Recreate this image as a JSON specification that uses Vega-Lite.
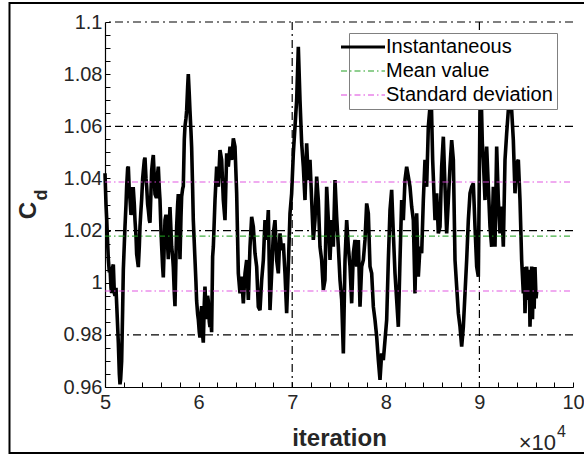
{
  "$schema": "https://vega.github.io/schema/vega-lite/v6.json",
  "width": 468,
  "height": 365,
  "autosize": {"type": "none"},
  "padding": {"left": 105, "top": 22, "right": 11, "bottom": 71},
  "background": "white",
  "config": {"font": "Liberation Sans", "view": {"stroke": null}},
  "datasets": {
    "cd": [
      {"it":50000,"cd":1.042},{"it":50107,"cd":1.030},{"it":50178,"cd":1.025},{"it":50285,"cd":1.015},{"it":50356,"cd":1.009},{"it":50463,"cd":1.004},{"it":50534,"cd":1.006},{"it":50641,"cd":0.998},{"it":50712,"cd":0.996},{"it":50819,"cd":1.006},{"it":50890,"cd":1.007},{"it":50997,"cd":0.996},{"it":51068,"cd":0.995},{"it":51175,"cd":0.998},{"it":51246,"cd":0.992},{"it":51424,"cd":0.977},{"it":51531,"cd":0.965},{"it":51602,"cd":0.961},{"it":51673,"cd":0.963},{"it":51780,"cd":0.970},{"it":51887,"cd":0.990},{"it":51958,"cd":1.005},{"it":52065,"cd":1.015},{"it":52136,"cd":1.0215},{"it":52243,"cd":1.030},{"it":52314,"cd":1.037},{"it":52421,"cd":1.044},{"it":52492,"cd":1.0445},{"it":52599,"cd":1.035},{"it":52670,"cd":1.032},{"it":52777,"cd":1.026},{"it":52848,"cd":1.027},{"it":52955,"cd":1.036},{"it":53026,"cd":1.036},{"it":53133,"cd":1.030},{"it":53204,"cd":1.024},{"it":53311,"cd":1.018},{"it":53382,"cd":1.011},{"it":53489,"cd":1.008},{"it":53560,"cd":1.006},{"it":53667,"cd":1.014},{"it":53738,"cd":1.0215},{"it":53845,"cd":1.028},{"it":53916,"cd":1.032},{"it":54023,"cd":1.040},{"it":54094,"cd":1.043},{"it":54201,"cd":1.047},{"it":54272,"cd":1.048},{"it":54379,"cd":1.040},{"it":54450,"cd":1.037},{"it":54557,"cd":1.030},{"it":54628,"cd":1.028},{"it":54735,"cd":1.024},{"it":54806,"cd":1.023},{"it":54913,"cd":1.035},{"it":54984,"cd":1.043},{"it":55091,"cd":1.047},{"it":55162,"cd":1.049},{"it":55269,"cd":1.040},{"it":55340,"cd":1.034},{"it":55447,"cd":1.033},{"it":55518,"cd":1.033},{"it":55625,"cd":1.042},{"it":55696,"cd":1.0445},{"it":55803,"cd":1.036},{"it":55874,"cd":1.032},{"it":55981,"cd":1.020},{"it":56052,"cd":1.014},{"it":56159,"cd":1.006},{"it":56230,"cd":1.002},{"it":56337,"cd":1.015},{"it":56408,"cd":1.024},{"it":56515,"cd":1.026},{"it":56586,"cd":1.025},{"it":56693,"cd":1.014},{"it":56764,"cd":1.009},{"it":56871,"cd":1.022},{"it":56942,"cd":1.029},{"it":57049,"cd":1.020},{"it":57120,"cd":1.014},{"it":57227,"cd":1.010},{"it":57298,"cd":1.006},{"it":57405,"cd":0.996},{"it":57476,"cd":0.991},{"it":57583,"cd":1.010},{"it":57654,"cd":1.0215},{"it":57761,"cd":1.030},{"it":57832,"cd":1.034},{"it":57939,"cd":1.020},{"it":58010,"cd":1.009},{"it":58117,"cd":1.025},{"it":58188,"cd":1.033},{"it":58295,"cd":1.036},{"it":58366,"cd":1.037},{"it":58473,"cd":1.055},{"it":58544,"cd":1.060},{"it":58651,"cd":1.063},{"it":58722,"cd":1.066},{"it":58829,"cd":1.075},{"it":58900,"cd":1.080},{"it":59007,"cd":1.072},{"it":59078,"cd":1.066},{"it":59185,"cd":1.058},{"it":59256,"cd":1.052},{"it":59363,"cd":1.036},{"it":59434,"cd":1.024},{"it":59541,"cd":1.015},{"it":59612,"cd":1.009},{"it":59719,"cd":1.000},{"it":59790,"cd":0.993},{"it":59897,"cd":0.988},{"it":59968,"cd":0.986},{"it":60075,"cd":0.981},{"it":60146,"cd":0.979},{"it":60253,"cd":0.988},{"it":60324,"cd":0.991},{"it":60431,"cd":0.980},{"it":60502,"cd":0.977},{"it":60609,"cd":0.992},{"it":60680,"cd":0.9985},{"it":60787,"cd":0.990},{"it":60858,"cd":0.986},{"it":60965,"cd":0.995},{"it":61036,"cd":0.993},{"it":61143,"cd":0.985},{"it":61214,"cd":0.983},{"it":61321,"cd":0.985},{"it":61392,"cd":0.981},{"it":61499,"cd":1.010},
      {"it":61574,"cd":1.0138},{"it":61752,"cd":1.0317},{"it":61930,"cd":1.0445},{"it":62108,"cd":1.0368},{"it":62286,"cd":1.0509},{"it":62464,"cd":1.0471},{"it":62642,"cd":1.0317},{"it":62820,"cd":1.0240},{"it":62999,"cd":1.0496},{"it":63177,"cd":1.0445},{"it":63355,"cd":1.0522},{"it":63533,"cd":1.0471},{"it":63711,"cd":1.0554},{"it":63889,"cd":1.0522},{"it":64067,"cd":1.0343},{"it":64245,"cd":1.0036},{"it":64423,"cd":0.9959},{"it":64601,"cd":1.0023},{"it":64779,"cd":0.9921},{"it":64957,"cd":1.0036},{"it":65135,"cd":1.0087},{"it":65313,"cd":0.9934},{"it":65491,"cd":1.0138},{"it":65669,"cd":1.0253},{"it":65847,"cd":1.0215},{"it":66025,"cd":1.0113},{"it":66203,"cd":1.0062},{"it":66381,"cd":0.9908},{"it":66560,"cd":0.9895},{"it":66738,"cd":1.0010},{"it":66916,"cd":1.0087},{"it":67094,"cd":1.0240},{"it":67272,"cd":1.0164},{"it":67450,"cd":1.0279},{"it":67628,"cd":0.9895},{"it":67806,"cd":1.0036},{"it":67984,"cd":1.0189},{"it":68162,"cd":1.0240},{"it":68340,"cd":1.0087},{"it":68518,"cd":1.0036},{"it":68696,"cd":1.0189},{"it":68874,"cd":1.0125},{"it":69052,"cd":1.0151},{"it":69230,"cd":1.0036},{"it":69408,"cd":0.9883},{"it":69586,"cd":1.0062},{"it":69764,"cd":1.0266},{"it":69942,"cd":1.0343},{"it":70121,"cd":1.0496},{"it":70299,"cd":1.0599},{"it":70477,"cd":1.0701},{"it":70655,"cd":1.0905},{"it":70833,"cd":1.0701},{"it":71011,"cd":1.0535},{"it":71189,"cd":1.0445},{"it":71367,"cd":1.0317},{"it":71545,"cd":1.0535},{"it":71723,"cd":1.0394},{"it":71901,"cd":1.0471},{"it":72079,"cd":1.0317},{"it":72257,"cd":1.0164},{"it":72435,"cd":1.0240},{"it":72613,"cd":1.0407},{"it":72791,"cd":1.0317},{"it":72969,"cd":1.0138},{"it":73147,"cd":1.0087},{"it":73325,"cd":0.9972},{"it":73503,"cd":1.0010},
      {"it":73683,"cd":1.0368},{"it":73861,"cd":1.0240},{"it":74039,"cd":1.0087},{"it":74217,"cd":1.0240},{"it":74395,"cd":1.0138},{"it":74573,"cd":1.0394},{"it":74751,"cd":1.0253},{"it":74929,"cd":1.0138},{"it":75108,"cd":1.0010},{"it":75286,"cd":0.9934},{"it":75464,"cd":0.9729},{"it":75642,"cd":1.0087},{"it":75820,"cd":1.0240},{"it":75998,"cd":1.0138},{"it":76176,"cd":1.0062},{"it":76354,"cd":0.9921},{"it":76532,"cd":1.0113},{"it":76710,"cd":1.0164},{"it":76888,"cd":1.0062},{"it":77066,"cd":1.0164},{"it":77244,"cd":0.9908},{"it":77422,"cd":1.0062},{"it":77600,"cd":1.0087},{"it":77778,"cd":1.0164},{"it":77956,"cd":1.0304},{"it":78134,"cd":1.0266},{"it":78313,"cd":1.0062},{"it":78491,"cd":1.0036},{"it":78669,"cd":0.9908},{"it":78847,"cd":0.9857},{"it":79025,"cd":0.9793},{"it":79203,"cd":0.9703},{"it":79381,"cd":0.9627},{"it":79559,"cd":0.9729},{"it":79737,"cd":0.9703},{"it":79915,"cd":0.9780},{"it":80093,"cd":0.9857},{"it":80271,"cd":1.0087},{"it":80449,"cd":1.0279},{"it":80627,"cd":1.0356},{"it":80805,"cd":1.0189},{"it":80983,"cd":1.0036},{"it":81161,"cd":0.9934},{"it":81339,"cd":0.9831},{"it":81517,"cd":1.0087},{"it":81695,"cd":1.0317},{"it":81873,"cd":1.0240},{"it":82051,"cd":1.0394},{"it":82229,"cd":1.0445},{"it":82407,"cd":1.0407},{"it":82585,"cd":1.0368},{"it":82763,"cd":1.0292},{"it":82941,"cd":1.0240},{"it":83120,"cd":0.9959},{"it":83298,"cd":1.0266},{"it":83476,"cd":1.0023},{"it":83654,"cd":1.0138},{"it":83832,"cd":1.0113},{"it":84010,"cd":1.0317},{"it":84188,"cd":1.0471},{"it":84366,"cd":1.0368},{"it":84544,"cd":1.0599},{"it":84722,"cd":1.0675},{"it":84829,"cd":1.075},{"it":85007,"cd":1.0471},
      {"it":85257,"cd":1.0240},{"it":85435,"cd":1.0343},{"it":85613,"cd":1.0189},{"it":85791,"cd":1.0215},{"it":85969,"cd":1.0445},{"it":86147,"cd":1.0560},{"it":86325,"cd":1.0368},{"it":86504,"cd":1.0189},{"it":86682,"cd":1.0317},{"it":86860,"cd":1.0445},{"it":87038,"cd":1.0547},{"it":87216,"cd":1.0471},{"it":87394,"cd":1.0087},{"it":87572,"cd":0.9985},{"it":87750,"cd":0.9883},{"it":87928,"cd":0.9831},{"it":88106,"cd":0.9755},{"it":88284,"cd":0.9831},{"it":88462,"cd":0.9959},{"it":88640,"cd":1.0087},{"it":88818,"cd":1.0240},{"it":88996,"cd":1.0343},{"it":89174,"cd":1.0368},{"it":89352,"cd":1.0381},{"it":89530,"cd":1.0215},{"it":89708,"cd":1.0062},{"it":89886,"cd":1.0023},{"it":90064,"cd":1.0662},{"it":90171,"cd":1.075},{"it":90314,"cd":1.0535},{"it":90420,"cd":1.0471},{"it":90598,"cd":1.0317},{"it":90776,"cd":1.0522},{"it":90955,"cd":1.0368},{"it":91133,"cd":1.0215},{"it":91311,"cd":1.0138},{"it":91489,"cd":1.0368},{"it":91667,"cd":1.0138},{"it":91845,"cd":1.0522},{"it":92023,"cd":1.0317},{"it":92201,"cd":1.0189},{"it":92379,"cd":1.0292},{"it":92557,"cd":1.0138},{"it":92735,"cd":1.0471},{"it":92913,"cd":1.0573},{"it":93091,"cd":1.0662},{"it":93269,"cd":1.074},{"it":93447,"cd":1.0662},{"it":93625,"cd":1.0547},{"it":93803,"cd":1.0343},{"it":93981,"cd":1.0458},{"it":94159,"cd":1.0471},{"it":94337,"cd":1.0317},{"it":94515,"cd":1.0087},{"it":94693,"cd":0.9959},{"it":94780,"cd":1.006},{"it":94871,"cd":0.9883},{"it":95049,"cd":1.0062},{"it":95227,"cd":0.9934},{"it":95320,"cd":1.005},{"it":95405,"cd":0.9831},{"it":95584,"cd":1.0062},{"it":95670,"cd":0.986},{"it":95762,"cd":1.0023},{"it":95850,"cd":0.990},{"it":95940,"cd":1.006},{"it":96050,"cd":0.994},{"it":96118,"cd":0.9965}
    ],
    "mean": [
      {"series":"Mean value","it":50000,"v":1.0179},
      {"series":"Mean value","it":100000,"v":1.0179}
    ],
    "std": [
      {"series":"Standard deviation","line":"u","it":50000,"v":1.0386},
      {"series":"Standard deviation","line":"u","it":100000,"v":1.0386},
      {"series":"Standard deviation","line":"l","it":50000,"v":0.9968},
      {"series":"Standard deviation","line":"l","it":100000,"v":0.9968}
    ],
    "gridy": [{"v":0.98},{"v":1.02},{"v":1.06},{"v":1.1}],
    "gridx": [{"it":70000},{"it":90000}],
    "one": [{}]
  },
  "layer": [
    {
      "data": {"name": "gridy"},
      "mark": {"type": "rule", "color": "black", "strokeWidth": 1.2, "strokeDash": [8, 4, 2, 4]},
      "encoding": {"y": {"field": "v", "type": "quantitative", "scale": {"domain": [0.96, 1.1], "nice": false, "zero": false}}}
    },
    {
      "data": {"name": "gridx"},
      "mark": {"type": "rule", "color": "black", "strokeWidth": 1.2, "strokeDash": [8, 4, 2, 4]},
      "encoding": {"x": {"field": "it", "type": "quantitative", "scale": {"domain": [50000, 100000], "nice": false, "zero": false}}}
    },
    {
      "data": {"name": "cd"},
      "transform": [{"calculate": "'Instantaneous'", "as": "series"}],
      "mark": {"type": "line", "strokeWidth": 3.6, "strokeJoin": "miter", "strokeMiterLimit": 3},
      "encoding": {
        "x": {"field": "it", "type": "quantitative", "scale": {"domain": [50000, 100000], "nice": false, "zero": false},
          "axis": {"values": [50000,52000,54000,56000,58000,60000,62000,64000,66000,68000,70000,72000,74000,76000,78000,80000,82000,84000,86000,88000,90000,92000,94000,96000,98000,100000],
            "tickCount": 200,
            "labelExpr": "datum.value % 10000 == 0 ? toString(datum.value/10000) : ''",
            "labelOverlap": false, "labelFlush": false, "grid": false, "tickSize": -5, "tickColor": "black", "tickWidth": 1,
            "domainColor": "black", "domainWidth": 1.2, "labelFontSize": 20, "labelColor": "#262626", "labelPadding": 10,
            "title": "iteration", "titleFontSize": 24, "titleFontWeight": "bold", "titleColor": "#262626",
            "titleX": 234, "titleY": 58, "titleBaseline": "alphabetic", "titleAlign": "center"}},
        "y": {"field": "cd", "type": "quantitative", "scale": {"domain": [0.96, 1.1], "nice": false, "zero": false},
          "axis": {"values": [0.96,0.965,0.97,0.975,0.98,0.985,0.99,0.995,1,1.005,1.01,1.015,1.02,1.025,1.03,1.035,1.04,1.045,1.05,1.055,1.06,1.065,1.07,1.075,1.08,1.085,1.09,1.095,1.1],
            "tickCount": 200,
            "labelExpr": "round(datum.value*1000) % 20 == 0 ? toString(round(datum.value*100)/100) : ''",
            "labelOverlap": false, "labelFlush": false, "grid": false, "tickSize": -5, "tickColor": "black", "tickWidth": 1,
            "domainColor": "black", "domainWidth": 1.2, "labelFontSize": 20, "labelColor": "#262626", "labelPadding": 8,
            "title": "C", "titleFontSize": 24, "titleFontWeight": "bold", "titleColor": "#262626",
            "titleX": -70, "titleY": 188, "titleAngle": 270, "titleBaseline": "alphabetic", "titleAlign": "center"}},
        "color": {"field": "series", "type": "nominal",
          "scale": {"domain": ["Instantaneous", "Mean value", "Standard deviation"], "range": ["#000000", "#22a022", "#dd44dd"]},
          "legend": {"title": null, "orient": "none", "legendX": 244, "legendY": 11, "fillColor": "white", "strokeColor": "#808080",
            "padding": 4, "labelFontSize": 20, "labelColor": "#000000", "labelOffset": 13, "rowPadding": 4, "symbolType": "stroke", "symbolSize": 1936, "labelLimit": 300,
            "encode": {
              "legend": {"update": {"strokeWidth": {"value": 1}}},
              "symbols": {"update": {
                "strokeDash": {"signal": "datum.value == 'Instantaneous' ? [1, 0] : [6, 3, 1.5, 3]"},
                "strokeWidth": {"signal": "datum.value == 'Instantaneous' ? 3.2 : 1.2"},
                "opacity": {"value": 1}}}}}}
      }
    },
    {
      "data": {"name": "mean"},
      "mark": {"type": "line", "strokeWidth": 1.3, "opacity": 0.85, "strokeDash": [6, 3, 1.5, 3]},
      "encoding": {
        "x": {"field": "it", "type": "quantitative"},
        "y": {"field": "v", "type": "quantitative"},
        "color": {"field": "series", "type": "nominal"}
      }
    },
    {
      "data": {"name": "std"},
      "mark": {"type": "line", "strokeWidth": 2, "opacity": 0.45, "strokeDash": [6, 3, 1.5, 3]},
      "encoding": {
        "x": {"field": "it", "type": "quantitative"},
        "y": {"field": "v", "type": "quantitative"},
        "detail": {"field": "line", "type": "nominal"},
        "color": {"field": "series", "type": "nominal"}
      }
    },
    {
      "data": {"name": "one"},
      "mark": {"type": "text", "text": "d", "fontSize": 18, "fontWeight": "bold", "color": "#262626", "angle": 270, "align": "center", "baseline": "alphabetic", "dy": -58, "clip": false},
      "encoding": {"x": {"datum": 50000}, "y": {"datum": 1.0336}}
    },
    {
      "data": {"name": "one"},
      "mark": {"type": "text", "text": "×10", "fontSize": 22, "color": "#262626", "align": "right", "baseline": "alphabetic", "dx": -17, "dy": 63, "clip": false},
      "encoding": {"x": {"datum": 100000}, "y": {"datum": 0.96}}
    },
    {
      "data": {"name": "one"},
      "mark": {"type": "text", "text": "4", "fontSize": 16, "color": "#262626", "align": "left", "baseline": "alphabetic", "dx": -16, "dy": 50, "clip": false},
      "encoding": {"x": {"datum": 100000}, "y": {"datum": 0.96}}
    },
    {
      "data": {"name": "one"},
      "mark": {"type": "rect", "fillOpacity": 0, "stroke": "black", "strokeWidth": 2, "clip": false},
      "encoding": {"x": {"datum": 39797}, "x2": {"datum": 101816}, "y": {"datum": 0.9347}, "y2": {"datum": 1.1073}}
    }
  ]
}
